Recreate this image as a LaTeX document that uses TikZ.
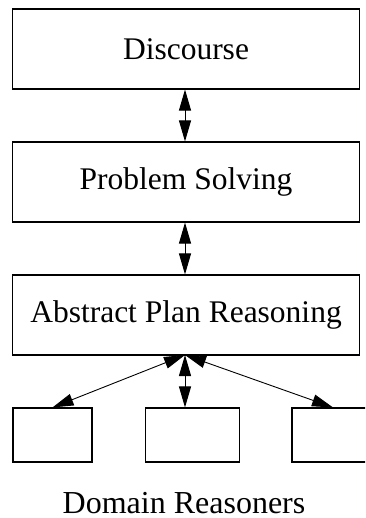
\documentclass[tikz,border=0pt]{standalone}
\usepackage{fontspec}
\setmainfont{Liberation Serif}
\usetikzlibrary{arrows.meta}
\begin{document}
\begin{tikzpicture}[x=1pt,y=1pt,
  layer/.style={draw=black, line width=1.1pt, minimum width=346.5pt, minimum height=80pt,
                inner sep=0pt, font=\fontsize{31.5}{36}\selectfont},
  small/.style={draw=black, line width=1.1pt, minimum height=54pt, inner sep=0pt},
  link/.style={line width=1pt, {Triangle[length=21pt,width=12pt]}-{Triangle[length=21pt,width=12pt]}},
  label/.style={font=\fontsize{32}{36}\selectfont, inner sep=0pt, anchor=base}]
  \clip (0,0) rectangle (365,-518);
  \fill[white] (0,0) rectangle (365,-518);

  % three stacked layers
  \node[layer] (disc) at (186,-49) {Discourse};
  \node[layer] (prob) at (186,-182) {Problem Solving};
  \node[layer] (apr)  at (186,-315) {Abstract Plan Reasoning};

  % domain reasoner boxes
  \node[small, minimum width=79pt]   (dl) at (52.5,-435) {};
  \node[small, minimum width=93.5pt] (dm) at (192.3,-435) {};
  \node[small, minimum width=82pt]   (dr) at (333,-435) {};

  \node[label] (dlabel) at (184,-513) {Domain Reasoners};

  % connectors
  \coordinate (hub) at (185,-355);
  \draw[link] (disc.south -| hub) -- (prob.north -| hub);
  \draw[link] (prob.south -| hub) -- (apr.north -| hub);
  \draw[link] (hub) -- (dm.north -| hub);
  \draw[link, line width=0.9pt] (hub) -- (dl.north);
  \draw[link, line width=0.9pt] (hub) -- (dr.north);
\end{tikzpicture}
\end{document}
